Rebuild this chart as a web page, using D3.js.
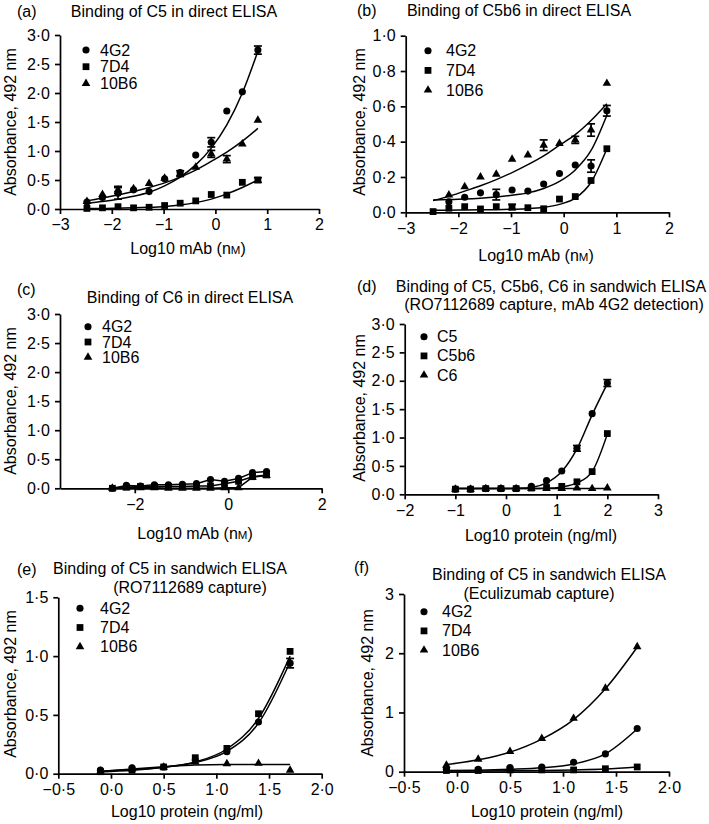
<!DOCTYPE html>
<html><head><meta charset="utf-8">
<script src="https://cdn.jsdelivr.net/npm/d3@7"></script>
<style>
body{margin:0;background:#fff}
svg text{font-family:"Liberation Sans",Arial,Helvetica,sans-serif;fill:#000}
</style>
</head><body>
<svg id="chart" width="709" height="824"></svg>
<script>
// ---------------- DATA ----------------
// Panel (a) Binding of C5 in direct ELISA
const doseA = [-2.48,-2.18,-1.88,-1.58,-1.28,-0.98,-0.68,-0.38,-0.08,0.22,0.52,0.82];
const a4G2     = [0.12,0.20,0.27,0.33,0.30,0.52,0.63,0.93,1.15,1.69,2.02,2.74];
const a4G2Fit  = [0.10,0.13,0.17,0.22,0.29,0.40,0.55,0.76,1.05,1.45,2.00,2.72];
const a4G2Err  = [0,0,0.10,0,0,0,0,0,0.08,0,0,0.07];
const a7D4     = [0.01,0.02,0.04,0.02,0.03,0.06,0.10,0.14,0.25,0.24,0.46,0.50];
const a7D4Fit  = [0.01,0.01,0.015,0.02,0.03,0.045,0.07,0.11,0.17,0.26,0.37,0.50];
const a7D4Err  = [0,0,0,0,0,0,0,0,0,0,0,0.04];
const a10B6    = [0.13,0.25,0.33,0.35,0.44,0.53,0.61,0.72,0.95,0.86,1.12,1.53];
const a10B6Fit = [0.14,0.19,0.24,0.30,0.37,0.45,0.55,0.67,0.82,0.98,1.17,1.39];
const a10B6Err = [0,0,0.06,0,0,0,0.05,0,0.06,0.06,0,0];

// Panel (b) Binding of C5b6 in direct ELISA
const doseB = [-2.48,-2.18,-1.88,-1.58,-1.28,-0.98,-0.68,-0.38,-0.08,0.22,0.52,0.82];
const b4G2     = [null,0.06,0.085,0.11,0.10,0.126,0.12,0.16,0.22,0.268,0.262,0.575];
const b4G2Fit  = [0.07,0.072,0.075,0.08,0.087,0.097,0.11,0.135,0.175,0.24,0.35,0.55];
const b4G2Err  = [0,0,0,0,0.03,0,0,0,0,0,0.035,0.03];
const b7D4     = [0.004,0.023,0.032,0.019,0.032,0.03,0.026,0.02,0.075,0.089,0.18,0.36];
const b7D4Fit  = [0.012,0.012,0.013,0.014,0.015,0.017,0.02,0.028,0.045,0.08,0.17,0.36];
const b7D4Err  = [0,0,0,0,0,0.015,0,0,0,0,0,0];
const b10B6    = [null,0.098,0.145,0.20,0.215,0.30,0.325,0.38,0.39,0.41,0.466,0.73];
const b10B6Fit = [0.066,0.09,0.12,0.15,0.185,0.225,0.27,0.32,0.38,0.44,0.52,0.615];
const b10B6Err = [0,0,0,0,0,0,0,0.03,0,0.02,0.035,0];

// Panel (c) Binding of C6 in direct ELISA (points joined)
const doseC = [-2.48,-2.18,-1.88,-1.58,-1.28,-0.98,-0.68,-0.38,-0.08,0.22,0.52,0.82];
const c4G2  = [0.0,0.05,0.04,0.06,0.06,0.07,0.08,0.15,0.12,0.17,0.27,0.29];
const c7D4  = [0.0,0.02,0.03,0.03,0.03,0.03,0.04,0.04,0.08,0.12,0.20,0.23];
const c10B6 = [0.0,0.01,0.01,0.01,0.0,0.0,0.0,0.0,0.01,0.01,0.19,0.22];

// Panel (d) sandwich ELISA, RO7112689 capture, mAb 4G2 detection
const doseD = [-1,-0.7,-0.4,-0.1,0.2,0.5,0.8,1.1,1.4,1.7,2.0];
const dC5      = [0.09,0.09,0.10,0.10,0.10,0.14,0.24,0.41,0.81,1.42,1.96];
const dC5Fit   = [0.10,0.10,0.10,0.10,0.105,0.12,0.20,0.40,0.80,1.40,1.95];
const dC5Err   = [0,0,0,0,0,0,0,0,0.05,0,0.06];
const dC5b6    = [0.09,0.09,0.10,0.10,0.10,0.11,0.12,0.14,0.22,0.40,1.07];
const dC5b6Fit = [0.10,0.10,0.10,0.10,0.10,0.10,0.105,0.13,0.20,0.40,1.06];
const dC6      = [0.09,0.09,0.10,0.10,0.10,0.10,0.10,0.10,0.11,0.10,0.11];
const dC6Fit   = [0.10,0.10,0.10,0.10,0.10,0.10,0.10,0.10,0.10,0.10,0.10];

// Panel (e) sandwich ELISA, RO7112689 capture
const doseE = [-0.1,0.2,0.5,0.8,1.1,1.4,1.7];
const e4G2     = [0.03,0.05,0.057,0.116,0.187,0.44,0.94];
const e4G2Fit  = [0.02,0.035,0.055,0.095,0.19,0.43,0.95];
const e4G2Err  = [0,0,0,0,0,0,0.04];
const e7D4     = [0.017,0.03,0.057,0.136,0.215,0.51,1.04];
const e7D4Fit  = [0.015,0.03,0.055,0.10,0.21,0.47,1.0];
const e10B6    = [0.02,0.04,0.055,0.10,0.085,0.088,0.03];
const e10B6Fit = [0.02,0.04,0.06,0.075,0.078,0.078,0.078];

// Panel (f) sandwich ELISA, Eculizumab capture
const doseF = [-0.1,0.2,0.5,0.8,1.1,1.4,1.7];
const f4G2     = [0.04,0.04,0.07,0.08,0.16,0.30,0.73];
const f4G2Fit  = [0.02,0.025,0.04,0.065,0.13,0.30,0.72];
const f7D4     = [0.02,0.02,0.03,0.03,0.03,0.05,0.08];
const f7D4Fit  = [0.01,0.012,0.015,0.02,0.03,0.045,0.08];
const f10B6    = [0.11,0.21,0.34,0.56,0.90,1.41,2.11];
const f10B6Fit = [0.12,0.20,0.33,0.55,0.88,1.40,2.10];

// tick values
const xTicksDirect = [-3,-2,-1,0,1,2];
const xTicksC = [-2,0,2];
const xTicksD = [-2,-1,0,1,2,3];
const xTicksProt = [-0.5,0,0.5,1,1.5,2];
const yTicks3 = [0,0.5,1,1.5,2,2.5,3];
const yTicks1 = [0,0.2,0.4,0.6,0.8,1.0];
const yTicks15 = [0,0.5,1,1.5];
const yTicksF = [0,1,2,3];

// ---------------- DRAWING ----------------
const svg = d3.select('#chart');
const FS = 16;
const fmt = (d, n) => d.toFixed(n).replace('.', '\u00B7').replace('-', '\u2212');
const shapes = {circle: d3.symbolCircle, square: d3.symbolSquare, triangle: d3.symbolTriangle};
const sizes = {circle: 40, square: 46, triangle: 32};

function drawPanel(p) {
  const g = svg.append('g');
  const x = d3.scaleLinear().domain(p.xd).range(p.xr);
  const y = d3.scaleLinear().domain(p.yd).range(p.yr);

  const ya = d3.axisLeft(y).tickValues(p.yt).tickFormat(d => fmt(d, p.ydec))
    .tickSize(5).tickSizeOuter(0).tickPadding(5);
  const xa = d3.axisBottom(x).tickValues(p.xt).tickFormat(d => fmt(d, p.xdec))
    .tickSize(5).tickSizeOuter(0).tickPadding(5);
  const gy = g.append('g').attr('transform', `translate(${p.xr[0]},0)`).call(ya);
  const gx = g.append('g').attr('transform', `translate(0,${p.yr[0]})`).call(xa);
  [gy, gx].forEach(a => {
    a.select('.domain').attr('stroke', '#000').attr('stroke-width', 1.7);
    a.selectAll('.tick line').attr('stroke', '#000').attr('stroke-width', 1.7);
    a.selectAll('.tick text').attr('font-size', FS).attr('fill', '#000')
      .style('font-family', '"Liberation Sans",Arial,sans-serif');
  });

  // series
  p.series.forEach(s => {
    const pts = p.dose.map((d, i) => ({x: d, y: s.y[i], e: s.err ? s.err[i] : 0}))
      .filter(d => d.y != null);
    const lineData = s.fit ? p.dose.map((d, i) => [d, s.fit[i]]) : pts.map(d => [d.x, d.y]);
    g.append('path').datum(lineData)
      .attr('fill', 'none').attr('stroke', '#000').attr('stroke-width', 1.5)
      .attr('d', d3.line().x(d => x(d[0])).y(d => y(d[1]))
        .curve(s.fit ? d3.curveMonotoneX : d3.curveLinear));
    // error bars
    const eb = pts.filter(d => d.e > 0);
    const ge = g.append('g').attr('stroke', '#000').attr('stroke-width', 1.7);
    eb.forEach(d => {
      const cx = x(d.x), y1 = y(d.y + d.e), y2 = y(d.y - d.e);
      ge.append('line').attr('x1', cx).attr('x2', cx).attr('y1', y1).attr('y2', y2);
      ge.append('line').attr('x1', cx - 4).attr('x2', cx + 4).attr('y1', y1).attr('y2', y1);
      ge.append('line').attr('x1', cx - 4).attr('x2', cx + 4).attr('y1', y2).attr('y2', y2);
    });
    g.append('g').selectAll('path').data(pts).join('path')
      .attr('transform', d => `translate(${x(d.x)},${y(d.y)})`)
      .attr('d', d3.symbol().type(shapes[s.shape]).size(sizes[s.shape]))
      .attr('fill', '#000');
  });

  // legend
  p.series.forEach((s, i) => {
    const ly = p.leg.y + i * p.leg.dy;
    g.append('path').attr('transform', `translate(${p.leg.mx},${ly})`)
      .attr('d', d3.symbol().type(shapes[s.shape]).size(sizes[s.shape])).attr('fill', '#000');
    g.append('text').attr('x', p.leg.tx).attr('y', ly + 5.5).attr('font-size', FS).text(s.name);
  });

  // panel letter
  g.append('text').attr('x', p.letter[0]).attr('y', p.letter[1]).attr('font-size', FS).text(p.id);
  // titles
  p.title.forEach(t => {
    g.append('text').attr('x', t[1]).attr('y', t[2]).attr('text-anchor', 'middle')
      .attr('font-size', FS).text(t[0]);
  });
  // y label
  g.append('text').attr('transform', `translate(${p.ylab[0]},${p.ylab[1]}) rotate(-90)`)
    .attr('text-anchor', 'middle').attr('font-size', FS).text('Absorbance, 492 nm');
  // x label
  const xl = g.append('text').attr('x', p.xlab[0]).attr('y', p.xlab[1])
    .attr('text-anchor', 'middle').attr('font-size', FS);
  if (p.xlabType === 'mab') {
    xl.append('tspan').text('Log10 mAb (n');
    xl.append('tspan').attr('font-size', 11.5).text('M');
    xl.append('tspan').text(')');
  } else {
    xl.text('Log10 protein (ng/ml)');
  }
}

const panels = [
  {id: '(a)', letter: [17, 17], title: [['Binding of C5 in direct ELISA', 174, 17]],
   xr: [60, 319], yr: [209, 35], xd: [-3, 2], yd: [0, 3], xt: xTicksDirect, xdec: 0, yt: yTicks3, ydec: 1,
   dose: doseA, xlabType: 'mab', xlab: [188, 254], ylab: [16, 122],
   leg: {mx: 86, tx: 100, y: 50, dy: 16.7},
   series: [
     {name: '4G2', shape: 'circle', y: a4G2, fit: a4G2Fit, err: a4G2Err},
     {name: '7D4', shape: 'square', y: a7D4, fit: a7D4Fit, err: a7D4Err},
     {name: '10B6', shape: 'triangle', y: a10B6, fit: a10B6Fit, err: a10B6Err}]},
  {id: '(b)', letter: [357, 16], title: [['Binding of C5b6 in direct ELISA', 519, 16]],
   xr: [405.7, 669], yr: [212.3, 35.7], xd: [-3, 2], yd: [0, 1], xt: xTicksDirect, xdec: 0, yt: yTicks1, ydec: 1,
   dose: doseB, xlabType: 'mab', xlab: [536, 261], ylab: [365, 122],
   leg: {mx: 428, tx: 446, y: 50.7, dy: 19.7},
   series: [
     {name: '4G2', shape: 'circle', y: b4G2, fit: b4G2Fit, err: b4G2Err},
     {name: '7D4', shape: 'square', y: b7D4, fit: b7D4Fit, err: b7D4Err},
     {name: '10B6', shape: 'triangle', y: b10B6, fit: b10B6Fit, err: b10B6Err}]},
  {id: '(c)', letter: [17, 295], title: [['Binding of C6 in direct ELISA', 190, 303]],
   xr: [60, 321.7], yr: [488.3, 314], xd: [-3.6, 2], yd: [0, 3], xt: xTicksC, xdec: 0, yt: yTicks3, ydec: 1,
   dose: doseC, xlabType: 'mab', xlab: [195, 539], ylab: [16, 401],
   leg: {mx: 88, tx: 102, y: 326.7, dy: 15.3},
   series: [
     {name: '4G2', shape: 'circle', y: c4G2},
     {name: '7D4', shape: 'square', y: c7D4},
     {name: '10B6', shape: 'triangle', y: c10B6}]},
  {id: '(d)', letter: [357, 292],
   title: [['Binding of C5, C5b6, C6 in sandwich ELISA', 551, 292], ['(RO7112689 capture, mAb 4G2 detection)', 554, 310]],
   xr: [404.7, 658], yr: [494.3, 324], xd: [-2, 3], yd: [0, 3], xt: xTicksD, xdec: 0, yt: yTicks3, ydec: 1,
   dose: doseD, xlabType: 'prot', xlab: [541, 541], ylab: [365, 408],
   leg: {mx: 424, tx: 437, y: 336.7, dy: 19.2},
   series: [
     {name: 'C5', shape: 'circle', y: dC5, fit: dC5Fit, err: dC5Err},
     {name: 'C5b6', shape: 'square', y: dC5b6, fit: dC5b6Fit},
     {name: 'C6', shape: 'triangle', y: dC6, fit: dC6Fit}]},
  {id: '(e)', letter: [17, 575],
   title: [['Binding of C5 in sandwich ELISA', 170, 574], ['(RO7112689 capture)', 190, 593]],
   xr: [58.3, 321.7], yr: [773.7, 597.3], xd: [-0.5, 2], yd: [0, 1.5], xt: xTicksProt, xdec: 1, yt: yTicks15, ydec: 1,
   dose: doseE, xlabType: 'prot', xlab: [187, 817], ylab: [16, 684],
   leg: {mx: 80, tx: 100, y: 608.3, dy: 19.2},
   series: [
     {name: '4G2', shape: 'circle', y: e4G2, fit: e4G2Fit, err: e4G2Err},
     {name: '7D4', shape: 'square', y: e7D4, fit: e7D4Fit},
     {name: '10B6', shape: 'triangle', y: e10B6, fit: e10B6Fit}]},
  {id: '(f)', letter: [354, 573],
   title: [['Binding of C5 in sandwich ELISA', 549, 580], ['(Eculizumab capture)', 539, 599]],
   xr: [404, 669], yr: [771.7, 594], xd: [-0.5, 2], yd: [0, 3], xt: xTicksProt, xdec: 1, yt: yTicksF, ydec: 0,
   dose: doseF, xlabType: 'prot', xlab: [547, 817], ylab: [373, 683],
   leg: {mx: 424, tx: 442, y: 611.7, dy: 19.2},
   series: [
     {name: '4G2', shape: 'circle', y: f4G2, fit: f4G2Fit},
     {name: '7D4', shape: 'square', y: f7D4, fit: f7D4Fit},
     {name: '10B6', shape: 'triangle', y: f10B6, fit: f10B6Fit}]}
];

panels.forEach(drawPanel);
</script>
</body></html>
